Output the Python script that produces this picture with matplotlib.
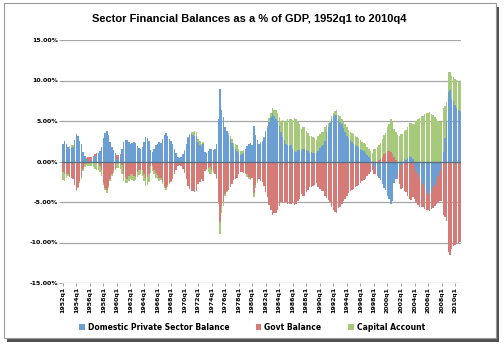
import numpy as np
import matplotlib.pyplot as plt
from matplotlib.patches import Rectangle

years = list(range(1952, 2011))
quarters = [f'{y}q{q}' for y in years for q in range(1, 5)]

# domestic private sector balance, % of GDP (one row per year, q1..q4)
private = [
    2.2, 2.5, 2.1, 1.8,     # 1952
    1.6, 1.7, 1.8, 2.6,
    3.4, 3.1, 2.5, 2.1,
    1.2, 0.7, 0.3, 0.1,
    -0.2, 0.2, 0.4, 0.7,
    0.9, 1.1, 1.3, 1.8,
    2.9, 3.5, 3.8, 3.3,
    2.4, 1.8, 1.4, 1.0,
    0.3, 0.2, 0.7, 1.5,     # 1960
    2.4, 2.6, 2.7, 2.4,
    2.2, 2.3, 2.4, 2.3,
    1.9, 1.7, 1.6, 1.8,
    2.4, 3.0, 2.9, 2.5,
    1.4, 1.2, 1.6, 2.0,
    2.1, 2.4, 2.3, 2.8,
    3.3, 3.5, 3.1, 2.8,
    2.5, 2.2, 1.6, 1.1,
    0.6, 0.4, 0.6, 0.9,
    1.3, 2.1, 2.9, 3.3,     # 1970
    3.4, 3.3, 3.2, 3.0,
    2.4, 2.0, 1.8, 2.1,
    1.2, 1.1, 1.3, 1.5,
    1.5, 1.4, 1.6, 2.2,
    5.3, 8.9, 6.3, 5.5,
    4.2, 3.8, 3.3, 2.8,
    2.3, 1.8, 1.6, 1.3,
    1.0, 0.8, 0.9, 1.1,
    1.6, 1.9, 2.1, 2.3,
    2.0, 4.4, 3.3, 2.6,     # 1980
    2.1, 2.3, 2.4, 2.9,
    3.6, 4.1, 4.9, 5.5,
    6.0, 5.6, 5.2, 5.0,
    4.4, 3.6, 3.0, 2.6,
    2.2, 2.0, 1.9, 2.0,
    1.6, 1.3, 1.2, 1.4,
    1.4, 1.3, 1.5, 1.6,
    1.4, 1.3, 1.1, 1.2,
    1.1, 1.0, 1.0, 1.3,
    1.7, 1.9, 2.0, 2.5,     # 1990
    3.6, 4.3, 4.8, 5.3,
    5.6, 5.7, 5.8, 5.2,
    4.9, 4.6, 4.1, 3.7,
    3.2, 2.9, 2.6, 2.4,
    2.2, 2.0, 1.9, 1.8,
    1.6, 1.4, 1.3, 1.1,
    0.8, 0.6, 0.3, 0.1,
    -0.5, -1.0, -1.5, -2.0,
    -2.3, -2.8, -3.3, -3.5,
    -4.2, -4.6, -5.2, -4.9,  # 2000
    -2.6, -2.2, -1.6, -1.0,
    -0.4, 0.0, 0.3, 0.2,
    0.4, 0.7, 0.6, 0.3,
    -0.6, -1.2, -1.6, -2.0,
    -2.4, -2.8, -3.3, -3.6,
    -4.0, -4.0, -3.7, -3.2,
    -2.9, -2.4, -1.8, -1.2,
    0.0, 1.2, 2.9, 5.0,
    8.6, 8.8, 7.7, 7.5,
    7.0, 6.6, 6.4, 6.2,     # 2010
]

# government balance, % of GDP
govt = [
    -1.3, -1.6, -1.5, -1.5,  # 1952
    -1.9, -2.0, -2.2, -2.9,
    -3.5, -3.1, -2.4, -1.9,
    -0.9, -0.3, 0.1, 0.4,
    0.5, 0.4, 0.3, 0.2,
    0.1, -0.2, -0.5, -1.0,
    -2.6, -3.3, -3.5, -3.0,
    -2.1, -1.5, -1.1, -0.9,
    0.5, 0.6, 0.2, -0.4,     # 1960
    -1.5, -1.9, -2.1, -1.8,
    -1.6, -1.6, -1.8, -1.9,
    -1.3, -1.1, -1.0, -1.1,
    -1.5, -2.0, -1.9, -1.5,
    -0.6, -0.5, -1.0, -1.4,
    -1.7, -2.0, -2.0, -2.5,
    -3.0, -3.3, -2.9, -2.6,
    -2.4, -2.1, -1.5, -1.0,
    -0.6, -0.4, -0.6, -0.9,
    -1.4, -2.2, -3.0, -3.4,  # 1970
    -3.6, -3.7, -3.8, -3.6,
    -2.8, -2.5, -2.2, -2.4,
    -1.2, -0.9, -0.8, -0.7,
    -1.0, -1.2, -1.5, -2.0,
    -5.0, -7.5, -5.5, -5.0,
    -4.0, -3.6, -3.5, -3.1,
    -2.8, -2.3, -2.2, -2.0,
    -1.5, -1.3, -1.3, -1.4,
    -1.4, -1.6, -1.9, -2.1,
    -2.0, -3.9, -2.9, -2.4,  # 1980
    -2.2, -2.4, -2.5, -3.0,
    -3.8, -4.4, -5.4, -6.0,
    -6.6, -6.3, -6.3, -6.0,
    -5.5, -5.0, -5.1, -5.0,
    -5.0, -5.2, -5.3, -5.2,
    -5.1, -5.4, -5.3, -4.9,
    -4.6, -4.0, -4.2, -4.3,
    -3.8, -3.5, -3.2, -3.1,
    -3.0, -2.9, -2.7, -3.1,
    -3.4, -3.6, -3.7, -4.3,  # 1990
    -4.5, -4.8, -5.0, -5.6,
    -6.0, -6.2, -6.3, -5.8,
    -5.6, -5.3, -4.9, -4.6,
    -4.2, -3.9, -3.6, -3.5,
    -3.4, -3.2, -3.0, -2.9,
    -2.6, -2.4, -2.3, -2.1,
    -1.8, -1.6, -1.3, -1.1,
    -1.0, -0.6, -0.3, 0.2,
    0.3, 0.6, 0.9, 1.1,
    1.3, 1.3, 1.2, 0.9,      # 2000
    0.5, 0.2, -0.6, -1.8,
    -3.0, -3.3, -3.6, -3.8,
    -4.2, -4.6, -4.7, -4.4,
    -4.0, -3.8, -3.8, -3.6,
    -3.2, -2.8, -2.6, -2.4,
    -2.0, -2.1, -2.2, -2.5,
    -2.6, -2.9, -3.2, -3.7,
    -4.9, -6.6, -6.9, -7.3,
    -11.2, -11.5, -10.8, -10.4,
    -10.3, -10.2, -10.0, -9.9,  # 2010
]

# capital account, % of GDP
capital = [
    -1.0, -0.8, -0.5, -0.3,  # 1952
    0.3, 0.3, 0.2, 0.1,
    -0.1, -0.2, -0.2, -0.3,
    -0.3, -0.4, -0.4, -0.5,
    -0.4, -0.6, -0.7, -0.9,
    -1.0, -0.9, -0.8, -0.8,
    -0.3, -0.2, -0.4, -0.3,
    -0.3, -0.3, -0.3, -0.1,
    -0.8, -0.8, -0.9, -1.1,  # 1960
    -0.9, -0.7, -0.6, -0.6,
    -0.6, -0.7, -0.6, -0.4,
    -0.6, -0.6, -0.6, -0.7,
    -0.9, -1.0, -1.0, -1.0,
    -0.8, -0.7, -0.6, -0.6,
    -0.4, -0.4, -0.3, -0.3,
    -0.3, -0.2, -0.2, -0.2,
    -0.1, -0.1, -0.1, -0.1,
    0.0, 0.0, 0.0, 0.0,
    0.1, 0.1, 0.1, 0.1,      # 1970
    0.2, 0.4, 0.6, 0.6,
    0.4, 0.5, 0.4, 0.3,
    0.0, -0.2, -0.5, -0.8,
    -0.5, -0.2, -0.1, -0.2,
    -0.3, -1.4, -0.8, -0.5,
    -0.2, -0.2, 0.2, 0.3,
    0.5, 0.5, 0.6, 0.7,
    0.5, 0.5, 0.4, 0.3,
    -0.2, -0.3, -0.2, -0.2,
    0.0, -0.5, -0.4, -0.2,   # 1980
    0.1, 0.1, 0.1, 0.1,
    0.2, 0.3, 0.5, 0.5,
    0.6, 0.7, 1.1, 1.0,
    1.1, 1.4, 2.1, 2.4,
    2.8, 3.2, 3.4, 3.2,
    3.5, 4.1, 4.1, 3.5,
    3.2, 2.7, 2.7, 2.7,
    2.4, 2.2, 2.1, 1.9,
    1.9, 1.9, 1.7, 1.8,
    1.7, 1.7, 1.7, 1.8,      # 1990
    0.9, 0.5, 0.2, 0.3,
    0.4, 0.5, 0.5, 0.6,
    0.7, 0.7, 0.8, 0.9,
    1.0, 1.0, 1.0, 1.1,
    1.2, 1.2, 1.1, 1.1,
    1.0, 1.0, 1.0, 1.0,
    1.0, 1.0, 1.0, 1.0,
    1.5, 1.6, 1.8, 1.8,
    2.0, 2.2, 2.4, 2.4,
    2.9, 3.3, 4.0, 4.0,      # 2000
    3.5, 3.4, 3.3, 3.2,
    3.4, 3.4, 3.5, 3.7,
    3.9, 4.1, 4.2, 4.3,
    4.6, 5.0, 5.2, 5.4,
    5.6, 5.6, 5.9, 6.0,
    6.0, 6.1, 5.9, 5.7,
    5.5, 5.3, 5.0, 4.9,
    4.9, 5.4, 4.0, 2.3,
    2.4, 2.2, 2.9, 2.9,
    3.2, 3.5, 3.6, 3.6,      # 2010
]

series = [
    (private, '#6b9fd3', 'Domestic Private Sector Balance'),
    (govt, '#d57b77', 'Govt Balance'),
    (capital, '#a7c97b', 'Capital Account'),
]

fig = plt.figure(figsize=(5.04, 3.46), dpi=100)

# chart frame with a drop shadow
px, py = 1 / 504, 1 / 346
fig.patches.append(Rectangle((7 * px, 4 * py), 492 * px, 335 * py, transform=fig.transFigure,
                             facecolor='#505050', edgecolor='none', zorder=0))
fig.patches.append(Rectangle((4 * px, 8 * py), 492 * px, 335 * py, transform=fig.transFigure,
                             facecolor='white', edgecolor='#9a9a9a', linewidth=0.8, zorder=1))

ax = fig.add_axes([62 / 504, 1 - 283 / 346, 399 / 504, 243 / 346])
ax.set_zorder(5)
ax.set_facecolor('none')

x = np.arange(len(quarters))
pos_base = np.zeros(len(x))
neg_base = np.zeros(len(x))
for vals, color, label in series:
    v = np.array(vals)
    base = np.where(v >= 0, pos_base, neg_base)
    ax.bar(x, v, bottom=base, width=0.85, color=color, label=label, linewidth=0, zorder=2)
    pos_base += np.clip(v, 0, None)
    neg_base += np.clip(v, None, 0)

ax.set_xlim(-0.5, len(x) - 0.5)
ax.set_ylim(-15, 15)

yt = [-15, -10, -5, 0, 5, 10, 15]
ax.set_yticks(yt)
ax.set_yticklabels([f'{v:.2f}%' for v in yt], fontsize=4.5, fontweight='bold')
for v in yt:
    if v != 0:
        ax.axhline(v, color='#a6a6a6', linewidth=0.9, zorder=1)
ax.axhline(0, color='#5b6f82', linewidth=1.0, zorder=3)

ax.set_xticks(x[::8])
ax.set_xticklabels(quarters[::8], rotation=90, fontsize=4.5, fontweight='bold')
ax.tick_params(axis='both', length=2, width=0.6, color='#909090', pad=1)

for s in ['top', 'right', 'bottom', 'left']:
    ax.spines[s].set_visible(False)

fig.text(0.495, 1 - 19 / 346, 'Sector Financial Balances as a % of GDP, 1952q1 to 2010q4',
         ha='center', va='center', fontsize=8, fontweight='bold', family='Liberation Sans')

leg = fig.legend(loc='center', bbox_to_anchor=(0.5, 1 - 327 / 346), ncol=3, frameon=False,
                 prop={'size': 5.5, 'weight': 'bold'}, handlelength=0.7, handleheight=0.7,
                 columnspacing=3.5, handletextpad=0.4)
leg.set_zorder(5)

fig.savefig('out.png', dpi=100)
